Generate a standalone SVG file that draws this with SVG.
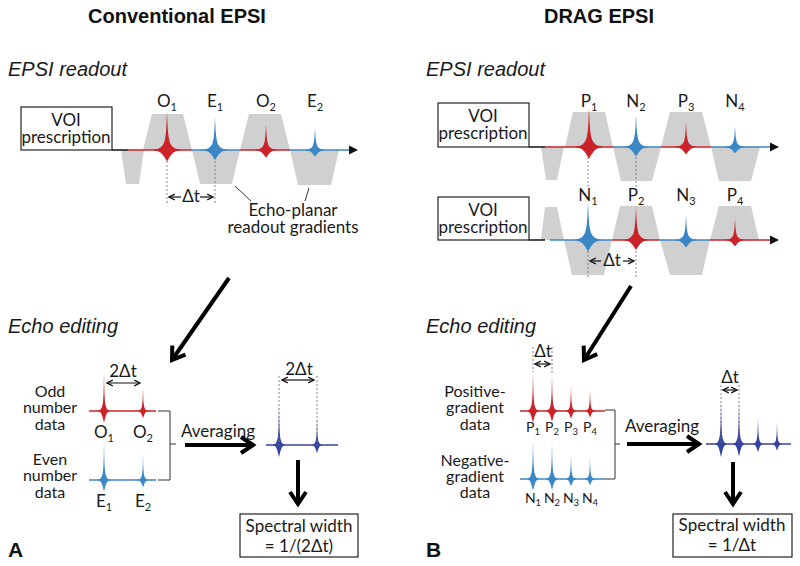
<svg xmlns="http://www.w3.org/2000/svg" xmlns:xlink="http://www.w3.org/1999/xlink" width="800" height="566" viewBox="0 0 800 566">
<style>
.t{font-family:Lato,"Liberation Sans",sans-serif;font-size:17px;fill:#1a1a1a}
.m{font-size:16px}
.p{font-size:14px}
.c{text-anchor:middle}
.s{font-size:11px}
.s2{font-size:9.5px}
.h{font-family:"Liberation Sans",Arial,sans-serif;font-style:italic;font-size:20px;fill:#1a1a1a}
.b{font-family:"Liberation Sans",Arial,sans-serif;font-weight:bold;fill:#111}
.g{fill:#d0d0d0;stroke:none}
.r{fill:#cc2229}.u{fill:#3b87c6}.n{fill:#3543a3}
.lr{stroke:#cc2229;stroke-width:1.6;fill:none}
.lu{stroke:#3b87c6;stroke-width:1.6;fill:none}
.ln{stroke:#3543a3;stroke-width:1.6;fill:none}
.lk{stroke:#111;stroke-width:1.5;fill:none}
.dot{stroke:#777;stroke-width:0.9;stroke-dasharray:2,2;fill:none}
.thin{stroke:#333;stroke-width:1;fill:none}
.box{fill:#fff;stroke:#222;stroke-width:1.2}
.big{stroke:#000;stroke-width:4;fill:none;marker-end:url(#big)}
.da{stroke:#111;stroke-width:1.2;fill:none;marker-end:url(#ch)}
.dd{stroke:#111;stroke-width:1.2;fill:none;marker-end:url(#ch);marker-start:url(#ch)}
</style>
<defs>
<path id="echo" d="M0,-38 L0.6,-24 L1.2,-16 L2,-11 L3,-7 L4.5,-4.5 L6.5,-2.5 L9,-1.2 L13,-0.4 L13,0.4 L9,1.2 L6.5,2.5 L4.5,4.5 L3,6.5 L1.8,8.5 L0.6,10.5 L0,11.5 L-0.6,10.5 L-1.8,8.5 L-3,6.5 L-4.5,4.5 L-6.5,2.5 L-9,1.2 L-13,0.4 L-13,-0.4 L-9,-1.2 L-6.5,-2.5 L-4.5,-4.5 L-3,-7 L-2,-11 L-1.2,-16 L-0.6,-24 Z"/>
<marker id="ch" viewBox="0 0 10 10" refX="9" refY="5" markerWidth="6" markerHeight="6" orient="auto-start-reverse"><path d="M1,1 L9,5 L1,9" fill="none" stroke="#111" stroke-width="1.6"/></marker>
<marker id="big" viewBox="0 0 20 20" refX="16" refY="10" markerWidth="20" markerHeight="20" markerUnits="userSpaceOnUse" orient="auto"><path d="M4,2 L16,10 L4,18" fill="none" stroke="#000" stroke-width="4"/></marker>
</defs>
<rect width="800" height="566" fill="#fff"/>

<g id="titles">
<text class="b c" x="177" y="23" font-size="20">Conventional EPSI</text>
<text class="b c" x="599" y="23" font-size="20">DRAG EPSI</text>
<text class="h" x="8" y="76">EPSI readout</text>
<text class="h" x="426" y="76">EPSI readout</text>
<text class="h" x="8" y="333">Echo editing</text>
<text class="h" x="426" y="333">Echo editing</text>
<text class="b" x="8" y="557" font-size="21">A</text>
<text class="b" x="426" y="557" font-size="21">B</text>
</g>

<g id="conv-readout">
<polygon class="g" points="121,150 144,150 139,184 126,184"/>
<polygon class="g" points="143,150 152,114 183,114 192,150"/>
<polygon class="g" points="192,150 240,150 232,184 200,184"/>
<polygon class="g" points="240,150 249,114 281,114 290,150"/>
<polygon class="g" points="290,150 339,150 331,185 298,185"/>
<line class="lk" x1="112" y1="150" x2="128" y2="150"/>
<line class="lr" x1="128" y1="150" x2="192" y2="150"/>
<line class="lu" x1="192" y1="150" x2="240" y2="150"/>
<line class="lr" x1="240" y1="150" x2="290" y2="150"/>
<line class="lu" x1="290" y1="150" x2="350" y2="150"/>
<polygon points="349,145.5 358,150 349,154.5" fill="#111"/>
<use xlink:href="#echo" class="r" transform="translate(167,150)"/>
<use xlink:href="#echo" class="u" transform="translate(215,150) scale(0.92,0.87)"/>
<use xlink:href="#echo" class="r" transform="translate(266,150) scale(0.82,0.68)"/>
<use xlink:href="#echo" class="u" transform="translate(315,150) scale(0.75,0.58)"/>
<text class="t c" x="167" y="107">O<tspan class="s" dy="4">1</tspan></text>
<text class="t c" x="215" y="107">E<tspan class="s" dy="4">1</tspan></text>
<text class="t c" x="266" y="107">O<tspan class="s" dy="4">2</tspan></text>
<text class="t c" x="315" y="107">E<tspan class="s" dy="4">2</tspan></text>
<line class="dot" x1="167" y1="161" x2="167" y2="205"/>
<line class="dot" x1="215" y1="161" x2="215" y2="205"/>
<line class="da" x1="181" y1="197" x2="169" y2="197"/>
<line class="da" x1="200" y1="197" x2="213" y2="197"/>
<text class="t c" x="191" y="202">Δt</text>
<line class="thin" x1="235" y1="186" x2="251" y2="201"/>
<line class="thin" x1="309" y1="188" x2="305" y2="201"/>
<text class="t c" x="293" y="216">Echo-planar</text>
<text class="t c" x="293" y="233">readout gradients</text>
</g>

<g id="conv-voi">
<rect class="box" x="21" y="107" width="91" height="43"/>
<text class="t c" x="66" y="126">VOI</text>
<text class="t c" x="66" y="143">prescription</text>
</g>

<g id="drag-row1">
<polygon class="g" points="541,147 564,147 557,180 546,180"/>
<polygon class="g" points="565,147 573,112 605,112 613,147"/>
<polygon class="g" points="613,147 661,147 652,181 621,181"/>
<polygon class="g" points="661,147 670,112 702,112 711,147"/>
<polygon class="g" points="711,147 760,147 751,181 719,181"/>
<line class="lk" x1="529" y1="147" x2="545" y2="147"/>
<line class="lr" x1="545" y1="147" x2="613" y2="147"/>
<line class="lu" x1="613" y1="147" x2="661" y2="147"/>
<line class="lr" x1="661" y1="147" x2="711" y2="147"/>
<line class="lu" x1="711" y1="147" x2="771" y2="147"/>
<polygon points="770,142.5 779,147 770,151.5" fill="#111"/>
<use xlink:href="#echo" class="r" transform="translate(589,147) scale(1,1.03)"/>
<use xlink:href="#echo" class="u" transform="translate(636,147) scale(0.9,0.84)"/>
<use xlink:href="#echo" class="r" transform="translate(686,147) scale(0.8,0.66)"/>
<use xlink:href="#echo" class="u" transform="translate(735,147) scale(0.75,0.55)"/>
<text class="t c" x="589" y="107">P<tspan class="s" dy="4">1</tspan></text>
<text class="t c" x="636" y="107">N<tspan class="s" dy="4">2</tspan></text>
<text class="t c" x="686" y="107">P<tspan class="s" dy="4">3</tspan></text>
<text class="t c" x="735" y="107">N<tspan class="s" dy="4">4</tspan></text>
</g>

<g id="drag-voi1">
<rect class="box" x="438" y="103" width="91" height="44"/>
<text class="t c" x="483" y="122">VOI</text>
<text class="t c" x="483" y="139">prescription</text>
</g>

<g id="drag-row2">
<polygon class="g" points="541,240 545,207 557,207 564,240"/>
<polygon class="g" points="564,240 612,240 604,275 572,275"/>
<polygon class="g" points="612,240 620,206 652,206 660,240"/>
<polygon class="g" points="660,240 710,240 702,275 670,275"/>
<polygon class="g" points="710,240 719,206 751,206 759,240"/>
<line class="lk" x1="529" y1="240" x2="545" y2="240"/>
<line class="lu" x1="550" y1="240" x2="612" y2="240"/>
<line class="lr" x1="612" y1="240" x2="660" y2="240"/>
<line class="lu" x1="660" y1="240" x2="710" y2="240"/>
<line class="lr" x1="710" y1="240" x2="771" y2="240"/>
<polygon points="770,235.5 779,240 770,244.5" fill="#111"/>
<use xlink:href="#echo" class="u" transform="translate(588,240)"/>
<use xlink:href="#echo" class="r" transform="translate(636,240) scale(0.92,0.87)"/>
<use xlink:href="#echo" class="u" transform="translate(686,240) scale(0.8,0.66)"/>
<use xlink:href="#echo" class="r" transform="translate(735,240) scale(0.75,0.55)"/>
<text class="t c" x="588" y="201">N<tspan class="s" dy="4">1</tspan></text>
<text class="t c" x="636" y="201">P<tspan class="s" dy="4">2</tspan></text>
<text class="t c" x="686" y="201">N<tspan class="s" dy="4">3</tspan></text>
<text class="t c" x="735" y="201">P<tspan class="s" dy="4">4</tspan></text>
<line class="dot" x1="588" y1="157" x2="588" y2="188"/>
<line class="dot" x1="636" y1="157" x2="636" y2="188"/>
<line class="dot" x1="588" y1="251" x2="588" y2="277"/>
<line class="dot" x1="636" y1="251" x2="636" y2="277"/>
<line class="da" x1="601" y1="261" x2="590" y2="261"/>
<line class="da" x1="623" y1="261" x2="634" y2="261"/>
<text class="t c" x="612" y="266">Δt</text>
</g>

<g id="drag-voi2">
<rect class="box" x="438" y="197" width="91" height="43"/>
<text class="t c" x="483" y="216">VOI</text>
<text class="t c" x="483" y="233">prescription</text>
</g>

<g id="conv-odd">
<text class="t m c" x="50" y="397">Odd</text>
<text class="t m c" x="50" y="413">number</text>
<text class="t m c" x="50" y="430">data</text>
<line class="lr" x1="89" y1="411" x2="156" y2="411"/>
<use xlink:href="#echo" class="r" transform="translate(104,411) scale(0.42,1.03)"/>
<use xlink:href="#echo" class="r" transform="translate(143,411) scale(0.38,0.63)"/>
<text class="t c" x="104" y="438">O<tspan class="s" dy="4">1</tspan></text>
<text class="t c" x="143" y="438">O<tspan class="s" dy="4">2</tspan></text>
<line class="dd" x1="107" y1="383" x2="140" y2="383"/>
<text class="t c" x="123" y="377">2Δt</text>
</g>

<g id="conv-even">
<text class="t m c" x="50" y="465">Even</text>
<text class="t m c" x="50" y="481">number</text>
<text class="t m c" x="50" y="498">data</text>
<line class="lu" x1="89" y1="480" x2="156" y2="480"/>
<use xlink:href="#echo" class="u" transform="translate(104,480) scale(0.42,1)"/>
<use xlink:href="#echo" class="u" transform="translate(143,480) scale(0.38,0.66)"/>
<text class="t c" x="104" y="507">E<tspan class="s" dy="4">1</tspan></text>
<text class="t c" x="143" y="507">E<tspan class="s" dy="4">2</tspan></text>
<path class="thin" d="M158,411 H170 V480 H158 M170,444 H176"/>
</g>

<g id="conv-avg">
<text class="t c" x="218" y="437">Averaging</text>
<line class="ln" x1="266" y1="445" x2="338" y2="445"/>
<use xlink:href="#echo" class="n" transform="translate(279,445) scale(0.42,1.05)"/>
<use xlink:href="#echo" class="n" transform="translate(317,445) scale(0.38,0.71)"/>
<line class="dot" x1="279" y1="376" x2="279" y2="445"/>
<line class="dot" x1="317" y1="376" x2="317" y2="445"/>
<line class="dd" x1="282" y1="380" x2="314" y2="380"/>
<text class="t c" x="299" y="375">2Δt</text>
</g>

<g id="conv-sw">
<rect class="box" x="240" y="514" width="118" height="43"/>
<text class="t c" x="299" y="532">Spectral width</text>
<text class="t c" x="299" y="552">= 1/(2Δt)</text>
</g>

<g id="drag-pos">
<text class="t m c" x="475" y="397">Positive-</text>
<text class="t m c" x="475" y="413">gradient</text>
<text class="t m c" x="475" y="430">data</text>
<line class="lr" x1="520" y1="411" x2="605" y2="411"/>
<use xlink:href="#echo" class="r" transform="translate(533,411) scale(0.42,1.03)"/>
<use xlink:href="#echo" class="r" transform="translate(552,411) scale(0.42,0.95)"/>
<use xlink:href="#echo" class="r" transform="translate(571,411) scale(0.38,0.68)"/>
<use xlink:href="#echo" class="r" transform="translate(590,411) scale(0.36,0.58)"/>
<text class="t p c" x="533" y="432">P<tspan class="s2" dy="3">1</tspan></text>
<text class="t p c" x="552" y="432">P<tspan class="s2" dy="3">2</tspan></text>
<text class="t p c" x="571" y="432">P<tspan class="s2" dy="3">3</tspan></text>
<text class="t p c" x="590" y="432">P<tspan class="s2" dy="3">4</tspan></text>
<line class="dot" x1="533" y1="347" x2="533" y2="372"/>
<line class="dot" x1="552" y1="347" x2="552" y2="374"/>
<line class="dd" x1="535" y1="364" x2="550" y2="364"/>
<text class="t c" x="543" y="357">Δt</text>
</g>

<g id="drag-neg">
<text class="t m c" x="475" y="466">Negative-</text>
<text class="t m c" x="475" y="482">gradient</text>
<text class="t m c" x="475" y="498">data</text>
<line class="lu" x1="520" y1="479" x2="605" y2="479"/>
<use xlink:href="#echo" class="u" transform="translate(533,479) scale(0.42,1.03)"/>
<use xlink:href="#echo" class="u" transform="translate(552,479) scale(0.42,0.95)"/>
<use xlink:href="#echo" class="u" transform="translate(571,479) scale(0.38,0.64)"/>
<use xlink:href="#echo" class="u" transform="translate(590,479) scale(0.36,0.56)"/>
<text class="t p c" x="533" y="503">N<tspan class="s2" dy="3">1</tspan></text>
<text class="t p c" x="552" y="503">N<tspan class="s2" dy="3">2</tspan></text>
<text class="t p c" x="571" y="503">N<tspan class="s2" dy="3">3</tspan></text>
<text class="t p c" x="590" y="503">N<tspan class="s2" dy="3">4</tspan></text>
<path class="thin" d="M605,410 H615 V479 H605 M615,444 H620"/>
</g>

<g id="drag-avg">
<text class="t c" x="662" y="432">Averaging</text>
<line class="ln" x1="706" y1="444" x2="791" y2="444"/>
<use xlink:href="#echo" class="n" transform="translate(721,444) scale(0.42,1.14)"/>
<use xlink:href="#echo" class="n" transform="translate(739,444) scale(0.42,1.1)"/>
<use xlink:href="#echo" class="n" transform="translate(758,444) scale(0.38,0.72)"/>
<use xlink:href="#echo" class="n" transform="translate(777,444) scale(0.36,0.58)"/>
<line class="dot" x1="721" y1="385" x2="721" y2="444"/>
<line class="dot" x1="739" y1="385" x2="739" y2="444"/>
<line class="dd" x1="723" y1="390" x2="737" y2="390"/>
<text class="t c" x="730" y="383">Δt</text>
</g>

<g id="drag-sw">
<rect class="box" x="673" y="514" width="119" height="43"/>
<text class="t c" x="732" y="531">Spectral width</text>
<text class="t c" x="732" y="551">= 1/Δt</text>
</g>

<g id="connectors">
<line class="big" x1="229" y1="278" x2="172" y2="360"/>
<line class="big" x1="631" y1="286" x2="584" y2="360"/>
<line class="big" x1="185" y1="445" x2="253" y2="445"/>
<line class="big" x1="627" y1="444" x2="699" y2="444"/>
<line class="big" x1="298" y1="460" x2="298" y2="504"/>
<line class="big" x1="733" y1="462" x2="733" y2="504"/>
</g>
</svg>
